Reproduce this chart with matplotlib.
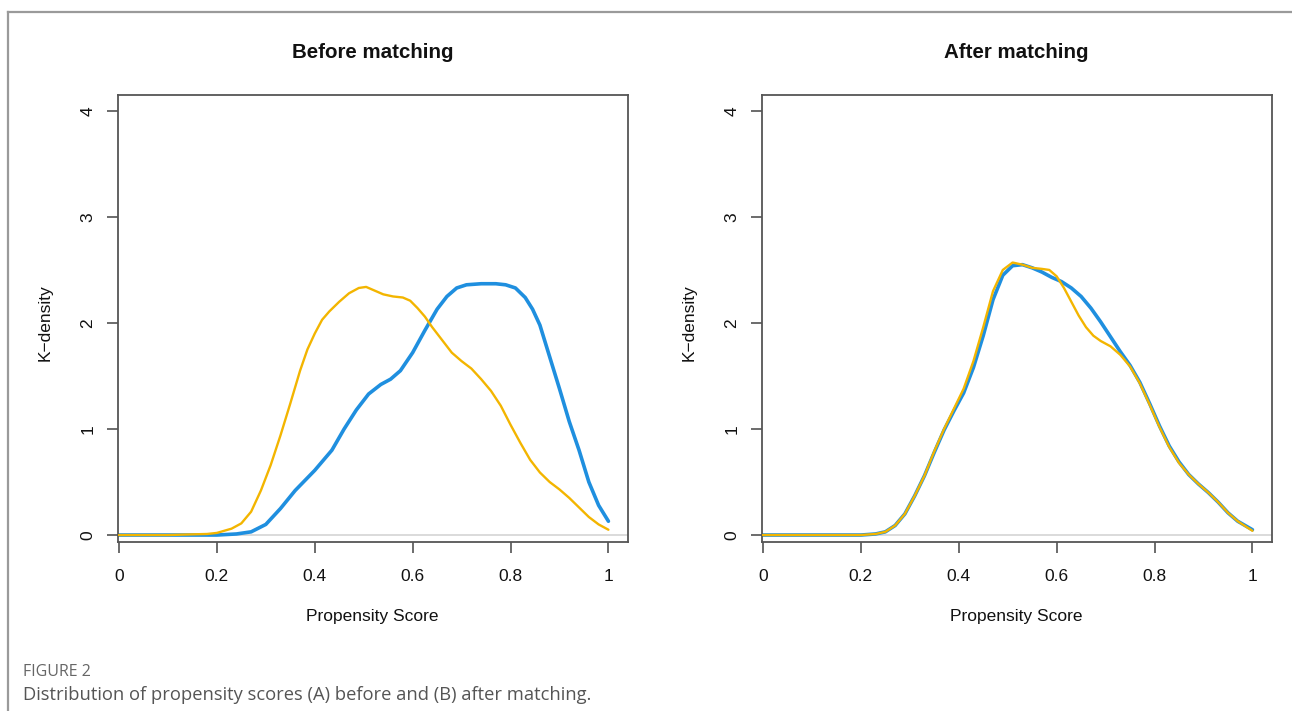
import matplotlib
matplotlib.use("Agg")
import matplotlib.pyplot as plt
from matplotlib.lines import Line2D

# ---------------- data ----------------
before_blue_x = [0.00, 0.10, 0.20, 0.24, 0.27, 0.30, 0.33, 0.36, 0.40, 0.435, 0.46, 0.485, 0.51, 0.535,
                 0.555, 0.575, 0.60, 0.625, 0.65, 0.67, 0.69, 0.71, 0.74, 0.77, 0.79, 0.81, 0.83, 0.845,
                 0.86, 0.88, 0.90, 0.92, 0.94, 0.96, 0.98, 1.00]
before_blue_y = [0.00, 0.00, 0.00, 0.01, 0.03, 0.10, 0.25, 0.42, 0.61, 0.80, 1.00, 1.18, 1.33, 1.42,
                 1.47, 1.55, 1.72, 1.93, 2.13, 2.25, 2.33, 2.36, 2.37, 2.37, 2.36, 2.33, 2.24, 2.13,
                 1.98, 1.68, 1.38, 1.07, 0.80, 0.50, 0.28, 0.13]

before_gold_x = [0.00, 0.10, 0.18, 0.20, 0.23, 0.25, 0.27, 0.29, 0.31, 0.33, 0.35, 0.37, 0.385, 0.40,
                 0.415, 0.43, 0.45, 0.47, 0.49, 0.505, 0.52, 0.54, 0.56, 0.58, 0.595, 0.61, 0.625,
                 0.64, 0.66, 0.68, 0.70, 0.72, 0.74, 0.76, 0.78, 0.80, 0.82, 0.84, 0.86, 0.88, 0.90,
                 0.92, 0.94, 0.96, 0.98, 1.00]
before_gold_y = [0.00, 0.00, 0.01, 0.02, 0.06, 0.11, 0.22, 0.42, 0.66, 0.94, 1.24, 1.55, 1.75, 1.90,
                 2.03, 2.11, 2.20, 2.28, 2.33, 2.34, 2.31, 2.27, 2.25, 2.24, 2.21, 2.14, 2.06,
                 1.96, 1.84, 1.72, 1.64, 1.57, 1.47, 1.36, 1.22, 1.04, 0.87, 0.71, 0.59, 0.50, 0.43,
                 0.35, 0.26, 0.17, 0.10, 0.05]

after_blue_x = [0.00, 0.10, 0.20, 0.23, 0.25, 0.27, 0.29, 0.31, 0.33, 0.35, 0.37, 0.39, 0.41, 0.43,
                0.45, 0.47, 0.49, 0.51, 0.53, 0.55, 0.57, 0.59, 0.61, 0.63, 0.65, 0.67, 0.69, 0.71,
                0.73, 0.75, 0.77, 0.79, 0.81, 0.83, 0.85, 0.87, 0.89, 0.91, 0.93, 0.95, 0.97, 1.00]
after_blue_y = [0.00, 0.00, 0.00, 0.01, 0.03, 0.09, 0.20, 0.37, 0.56, 0.78, 0.99, 1.17, 1.34, 1.58,
                1.88, 2.22, 2.45, 2.54, 2.55, 2.52, 2.48, 2.43, 2.39, 2.33, 2.25, 2.14, 2.01, 1.87,
                1.73, 1.60, 1.44, 1.24, 1.03, 0.84, 0.69, 0.57, 0.48, 0.40, 0.31, 0.21, 0.13, 0.05]

after_gold_x = [0.00, 0.10, 0.20, 0.23, 0.25, 0.27, 0.29, 0.31, 0.33, 0.35, 0.37, 0.39, 0.41, 0.43,
                0.45, 0.47, 0.49, 0.51, 0.53, 0.55, 0.57, 0.585, 0.60, 0.615, 0.63, 0.645, 0.66,
                0.675, 0.69, 0.71, 0.73, 0.75, 0.77, 0.79, 0.81, 0.83, 0.85, 0.87, 0.89, 0.91, 0.93,
                0.95, 0.97, 1.00]
after_gold_y = [0.00, 0.00, 0.00, 0.01, 0.03, 0.09, 0.20, 0.37, 0.56, 0.79, 1.00, 1.19, 1.38, 1.64,
                1.96, 2.30, 2.50, 2.57, 2.55, 2.52, 2.51, 2.50, 2.44, 2.33, 2.20, 2.07, 1.96,
                1.88, 1.83, 1.78, 1.70, 1.59, 1.43, 1.23, 1.02, 0.83, 0.68, 0.57, 0.48, 0.40, 0.31,
                0.21, 0.13, 0.04]

x_ticks = [0, 0.2, 0.4, 0.6, 0.8, 1]
x_tick_labels = ["0", "0.2", "0.4", "0.6", "0.8", "1"]
y_ticks = [0, 1, 2, 3, 4]
y_tick_labels = ["0", "1", "2", "3", "4"]
titles = ["Before matching", "After matching"]
xlabel = "Propensity Score"
ylabel = "K\u2212density"
caption_head = "FIGURE 2"
caption_text = "Distribution of propensity scores (A) before and (B) after matching."

BLUE = "#1f8fdf"
GOLD = "#f3b500"

# ---------------- figure ----------------
W, H = 1292, 711
fig = plt.figure(figsize=(W / 100, H / 100), dpi=100)
plt.rcParams['font.family'] = ['Liberation Sans', 'DejaVu Sans']

def fx(px):
    return px / W

def fy(py):
    return 1 - py / H

# outer frame (top and left)
fig.add_artist(Line2D([fx(8), 1.0], [fy(12), fy(12)], color="#9a9a9a", lw=1.6))
fig.add_artist(Line2D([fx(8), fx(8)], [fy(12), 0.0], color="#9a9a9a", lw=1.6))

ax_w = (628 - 117.5) / W
ax_h = (541.5 - 95) / H
lefts = [117.5, 761.5]
curves = [((before_blue_x, before_blue_y), (before_gold_x, before_gold_y)),
          ((after_blue_x, after_blue_y), (after_gold_x, after_gold_y))]

for i, left in enumerate(lefts):
    ax = fig.add_axes([fx(left), fy(541.5), ax_w, ax_h])
    (bx, by), (gx, gy) = curves[i]
    ax.axhline(0, color="#d4d4d4", lw=1.2, zorder=1)
    ax.plot(bx, by, color=BLUE, lw=2.6, solid_capstyle="round", solid_joinstyle="round", zorder=2)
    ax.plot(gx, gy, color=GOLD, lw=1.7, solid_capstyle="round", solid_joinstyle="round", zorder=3)
    ax.set_xlim(-0.003, 1.04)
    ax.set_ylim(-0.061, 4.15)
    ax.set_xticks(x_ticks)
    ax.set_xticklabels(x_tick_labels)
    ax.set_yticks(y_ticks)
    ax.set_yticklabels(y_tick_labels, rotation=90, va="center")
    ax.tick_params(axis="both", direction="out", length=8, width=1.1, color="#444444",
                   labelsize=12.5, labelcolor="#111111")
    ax.tick_params(axis="x", pad=12)
    ax.tick_params(axis="y", pad=8)
    for sp in ax.spines.values():
        sp.set_color("#555555")
        sp.set_linewidth(1.3)
    ax.text(0.5, (541.5 - 52) / (541.5 - 95), titles[i], transform=ax.transAxes,
            ha="center", va="center", fontsize=14.8, fontweight="bold", color="#111111")
    ax.text(0.5, -(617 - 541.5) / (541.5 - 95), xlabel, transform=ax.transAxes,
            ha="center", va="center", fontsize=12.5, color="#111111")
    ax.text(-(left - (45 if i == 0 else 689)) / (628 - 117.5), (541.5 - 323) / (541.5 - 95),
            ylabel, transform=ax.transAxes, ha="center", va="center", rotation=90,
            fontsize=12.5, color="#111111")

fig.text(fx(23), fy(672), caption_head, ha="left", va="center", fontsize=11.5,
         color="#666666", family=["Open Sans", "DejaVu Sans"])
fig.text(fx(23), fy(695), caption_text, ha="left", va="center", fontsize=13.2,
         color="#555555", family=["Open Sans", "DejaVu Sans"])

fig.savefig("out.png", dpi=100, facecolor="white")
